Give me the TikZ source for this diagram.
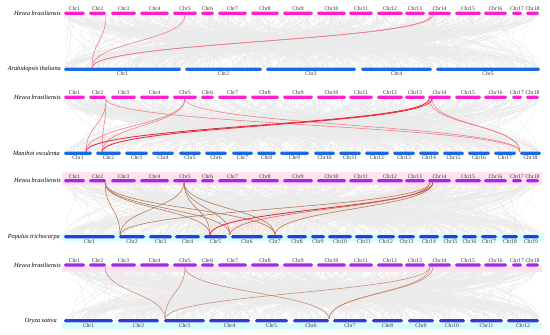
\documentclass[tikz,border=0pt]{standalone}
\usepackage{fontspec}
\setmainfont{Liberation Serif}
\usetikzlibrary{calc}
\definecolor{hevmag}{RGB}{255,30,210}
\definecolor{hevpur}{RGB}{165,40,230}
\definecolor{lowblue}{RGB}{25,105,225}
\definecolor{lowind}{RGB}{45,60,215}
\definecolor{lred}{RGB}{242,120,130}
\definecolor{sred}{RGB}{232,40,60}
\definecolor{brn}{RGB}{175,115,80}
\definecolor{lbrn}{RGB}{200,135,105}
\definecolor{bandpink}{RGB}{255,225,242}
\definecolor{bandcyan}{RGB}{210,255,255}
\newcommand{\chrrow}[5]{%
  \foreach \a/\b [count=\i] in #5 {
    \pgfmathsetmacro\cw{\b-\a}%
    \pgfmathsetmacro\cx{(\a+\b)/2}%
    \node[#3, minimum width=\cw pt, label={[chrlab]#4:Chr\i}] (#1\i) at (\cx,#2) {};
  }}
\newcommand{\mybgsyn}[3]{%
  \pgfmathsetseed{#3}%
  \foreach \k in {1,...,480} {
    \pgfmathsetmacro\xa{64+476*rnd}%
    \pgfmathsetmacro\xb{64+476*rnd}%
    \draw[bgline] (\xa,#1) .. controls (\xa,{(#1+#2)/2}) and (\xb,{(#1+#2)/2}) .. (\xb,#2);
  }}
\newcommand{\synline}[3][]{%
  \draw[#1] (#2) .. controls ($(#2)!.5!(#2|-#3)$) and ($(#3)!.5!(#3|-#2)$) .. (#3);}
\def\hevlist{64/85, 89/106, 111/136, 140/169, 173/197, 201/214, 218/247, 251/279, 283/313, 317/346, 349/373, 377/403, 405/425, 428/451, 455/481, 484/507, 512/522, 526/539}
\def\atlist{64/181, 185/262, 266/356, 361/432, 436/540}
\def\melist{64/92, 96/121, 125/148, 152/174, 179/201, 205/227, 232/253, 257/276, 280/309, 314/335, 339/361, 365/389, 393/415, 419/439, 443/464, 468/490, 494/516, 520/541}
\def\ptlist{64/115, 119/145, 149/172, 175/200, 204/227, 231/263, 267/283, 287/307, 311/325, 328/352, 355/373, 377/395, 398/415, 419/439, 443/458, 462/477, 481/497, 502/518, 523/539}
\def\oslist{64/113, 118/159, 164/205, 209/250, 255/288, 293/329, 333/367, 372/403, 408/434, 439/465, 470/503, 507/539}
\begin{document}
\begin{tikzpicture}[x=1pt,y=-1pt,
  bar/.style={rectangle, rounded corners=1.5pt, inner sep=0pt, minimum height=3.2pt},
  hmag/.style={bar, fill=hevmag},
  hpur/.style={bar, fill=hevpur},
  lblue/.style={bar, fill=lowblue},
  lind/.style={bar, fill=lowind},
  chrlab/.style={font=\fontsize{5.6}{6}\selectfont, inner sep=0.6pt, text=black!80},
  species/.style={font=\fontsize{6.3}{7}\selectfont\itshape, anchor=east, inner sep=0pt},
  bgline/.style={black!8, line width=0.4pt},
  lr/.style={lred, line width=0.55pt},
  sr/.style={sred, line width=0.85pt},
  br/.style={brn, line width=0.55pt},
  lb/.style={lbrn, line width=0.55pt},
]
\useasboundingbox (0,0) rectangle (550,335);
\fill[white] (0,0) rectangle (550,335);

% background gray synteny
\mybgsyn{15}{68}{11}
\mybgsyn{99}{152}{23}
\mybgsyn{182}{235}{37}
\mybgsyn{267}{319}{51}

% bands
\fill[bandpink] (62,171.5) rectangle (542,184.5);
\fill[bandcyan] (62,233.2) rectangle (544,240.5);
\fill[bandpink] (62,265.5) rectangle (542,271.5);
\fill[bandcyan] (62,322.5) rectangle (542,328.5);
\fill[pink, opacity=0.18] (405,182) .. controls (405,208) and (200,208) .. (200,235)
   -- (280,235) .. controls (280,208) and (440,208) .. (440,182) -- cycle;

% Panel 1
\node[species] (sp1) at (61,13.3) {Hevea brasiliensis};
\node[species] (sp2) at (61,69.3) {Arabidopsis thaliana};
\chrrow{ha}{13.3}{hmag}{above}{\hevlist}
\chrrow{at}{69.3}{lblue}{below}{\atlist}
\coordinate (a-h2) at (106,14.9);
\coordinate (a-h5) at (185,14.9);
\coordinate (a-h14a) at (431,14.9);
\coordinate (a-h14b) at (433,14.9);
\coordinate (a-at1) at (92,67.7);
\synline[lr]{a-h2}{a-at1}
\synline[lr]{a-h5}{a-at1}
\synline[lr]{a-h14a}{a-at1}
\synline[lr]{a-h14b}{a-at1}

% Panel 2
\node[species] (sp3) at (61,97.3) {Hevea brasiliensis};
\node[species] (sp4) at (60,153.3) {Manihot esculenta};
\chrrow{hb}{97.3}{hmag}{above}{\hevlist}
\chrrow{me}{153.3}{lblue}{below}{\melist}
\coordinate (b-h2) at (106,98.9);
\coordinate (b-h5) at (185,98.9);
\coordinate (b-h14a) at (429,98.9);
\coordinate (b-h14b) at (432,98.9);
\coordinate (b-m1) at (86,151.7);
\coordinate (b-m2) at (102,151.7);
\coordinate (b-m18) at (520,151.7);
\synline[lr]{b-h2}{b-m1}
\synline[lr]{b-h2}{b-m2}
\synline[lr]{b-h2}{b-m18}
\synline[lr]{b-h5}{b-m1}
\synline[lr]{b-h5}{b-m2}
\synline[lr]{b-h5}{b-m18}
\synline[lr]{b-h14a}{b-m18}
\synline[lr]{b-h14b}{b-m18}
\synline[sr]{b-h14a}{b-m1}
\synline[sr]{b-h14b}{b-m2}

% Panel 3
\node[species] (sp5) at (61,180.7) {Hevea brasiliensis};
\node[species] (sp6) at (60,236.7) {Populus trichocarpa};
\chrrow{hc}{180.7}{hpur}{above}{\hevlist}
\chrrow{pt}{236.7}{lind}{below}{\ptlist}
\coordinate (c-h2) at (105,182.3);
\coordinate (c-h5) at (184,182.3);
\coordinate (c-h14a) at (430,182.3);
\coordinate (c-h14b) at (433,182.3);
\coordinate (c-p2) at (120,235.1);
\coordinate (c-p5) at (210,235.1);
\coordinate (c-p6) at (230,235.1);
\coordinate (c-p7) at (275,235.1);
\synline[br]{c-h2}{c-p2}
\synline[br]{c-h2}{c-p5}
\synline[br]{c-h2}{c-p6}
\synline[br]{c-h2}{c-p7}
\synline[br]{c-h5}{c-p2}
\synline[br]{c-h5}{c-p5}
\synline[br]{c-h5}{c-p6}
\synline[br]{c-h5}{c-p7}
\synline[br]{c-h14a}{c-p2}
\synline[sr]{c-h14b}{c-p5}
\synline[br]{c-h14a}{c-p6}
\synline[br]{c-h14b}{c-p7}

% Panel 4
\node[species] (sp7) at (61,265) {Hevea brasiliensis};
\node[species] (sp8) at (57,320.7) {Oryza sativa};
\chrrow{hd}{265}{hpur}{above}{\hevlist}
\chrrow{os}{320.7}{lind}{below}{\oslist}
\coordinate (d-h2) at (105,266.6);
\coordinate (d-h5) at (185,266.6);
\coordinate (d-h14a) at (430,266.6);
\coordinate (d-h14b) at (433,266.6);
\coordinate (d-o3) at (165,319.1);
\coordinate (d-o6) at (329,319.1);
\synline[lb]{d-h2}{d-o3}
\synline[lb]{d-h5}{d-o3}
\synline[lb]{d-h5}{d-o6}
\synline[lb]{d-h14a}{d-o3}
\synline[lb]{d-h14a}{d-o6}
\synline[lb]{d-h14b}{d-o6}
\end{tikzpicture}
\end{document}
